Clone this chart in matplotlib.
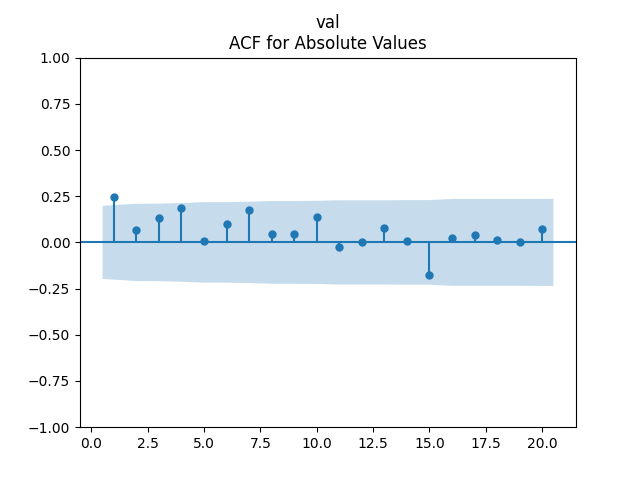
import numpy as np
import matplotlib
matplotlib.use('Agg')
import matplotlib.pyplot as plt

# autocorrelation by lag (lag 0 left out)
lags = [1, 2, 3, 4, 5, 6, 7, 8, 9, 10, 11, 12, 13, 14, 15, 16, 17, 18, 19, 20]
acf_vals = [0.247, 0.068, 0.133, 0.187, 0.008, 0.100, 0.176, 0.046, 0.046, 0.138,
            -0.024, 0.003, 0.079, 0.008, -0.176, 0.024, 0.041, 0.014, 0.003, 0.073]
# half width of the confidence band at each lag
band = [0.198, 0.209, 0.210, 0.213, 0.218, 0.218, 0.220, 0.224, 0.224, 0.225,
        0.228, 0.228, 0.228, 0.229, 0.229, 0.235, 0.235, 0.235, 0.235, 0.236]

fig, ax = plt.subplots(figsize=(6.4, 4.8), dpi=100)

ax.vlines(lags, [0], acf_vals)
ax.axhline()
ax.plot(lags, acf_vals, marker='o', markersize=5, linestyle='None')

xb = np.array(lags, dtype=float)
xb[0] -= 0.5
xb[-1] += 0.5
band = np.array(band)
ax.fill_between(xb, -band, band, alpha=0.25, linewidth=0)

ax.margins(0.05)
ax.set_ylim(-1, 1)
ax.set_title('val\nACF for Absolute Values')

fig.savefig('out.png')
